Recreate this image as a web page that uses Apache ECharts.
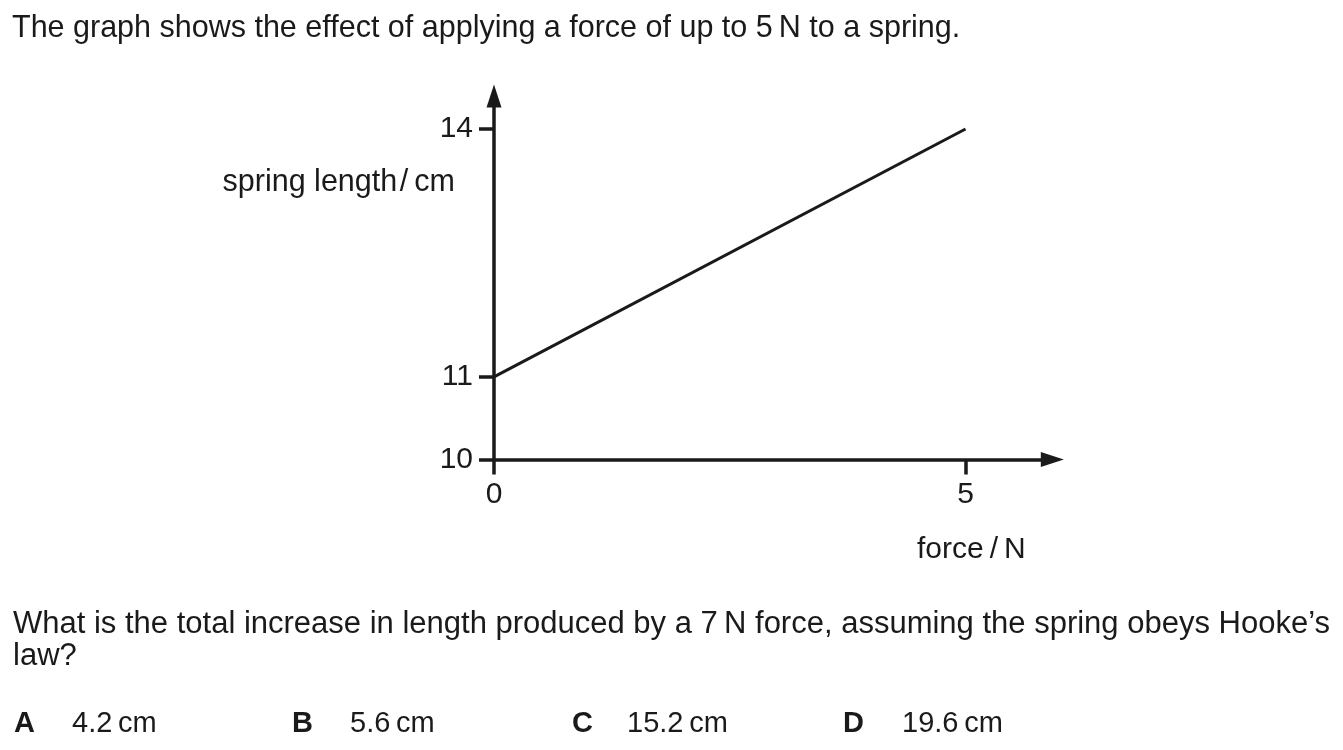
<!DOCTYPE html>
<html>
<head>
<meta charset="utf-8">
<script src="https://cdn.jsdelivr.net/npm/echarts/dist/echarts.min.js"></script>
<style>
html,body{margin:0;padding:0;background:#fff;}
#chart{width:1343px;height:750px;}
</style>
</head>
<body>
<div id="chart"></div>
<script>
// Data
var forceN = [0, 5];
var lengthCm = [11, 14];
var xTicks = [0, 5];
var yTicks = [10, 11, 14];
var xRange = [0, 5.92];
var yRange = [10, 14.4];

var titleText = 'The graph shows the effect of applying a force of up to 5\u2009N to a spring.';
var yName = 'spring length\u200a/\u2009cm';
var xName = 'force\u2009/\u2009N';
var question1 = 'What is the total increase in length produced by a 7\u2009N force, assuming the spring obeys Hooke\u2019s';
var question2 = 'law?';
var optionLetters = ['A', 'B', 'C', 'D'];
var optionValues = ['4.2\u2009cm', '5.6\u2009cm', '15.2\u2009cm', '19.6\u2009cm'];

var INK = '#1a1a1a';
var FONT = '"Liberation Sans", Arial, Helvetica, sans-serif';

var pts = forceN.map(function (f, i) { return [f, lengthCm[i]]; });

var optLetterX = [14, 292, 572, 843];
var optValueX = [72, 350, 627, 902];

var graphics = [
  {type: 'text', x: 12, y: 29, style: {text: titleText, font: '30.5px ' + FONT, fill: INK, verticalAlign: 'middle'}},
  {type: 'text', x: 455, y: 183, style: {text: yName, font: '30.5px ' + FONT, fill: INK, align: 'right', verticalAlign: 'middle'}},
  {type: 'text', x: 917, y: 550, style: {text: xName, font: '30px ' + FONT, fill: INK, verticalAlign: 'middle'}},
  {type: 'text', x: 13, y: 624, style: {text: question1, font: '31px ' + FONT, fill: INK, verticalAlign: 'middle'}},
  {type: 'text', x: 13, y: 656, style: {text: question2, font: '31px ' + FONT, fill: INK, verticalAlign: 'middle'}}
];
optionLetters.forEach(function (l, i) {
  graphics.push({type: 'text', x: optLetterX[i], y: 723.5, style: {text: l, font: 'bold 29px ' + FONT, fill: INK, verticalAlign: 'middle'}});
  graphics.push({type: 'text', x: optValueX[i], y: 723.5, style: {text: optionValues[i], font: '29px ' + FONT, fill: INK, verticalAlign: 'middle'}});
});

var chart = echarts.init(document.getElementById('chart'), null, {renderer: 'canvas'});
chart.setOption({
  animation: false,
  backgroundColor: '#ffffff',
  grid: {left: 494, width: 558.3, top: 96, height: 363.5, containLabel: false},
  xAxis: {
    type: 'value', min: xRange[0], max: xRange[1],
    splitLine: {show: false},
    axisLine: {onZero: false, lineStyle: {color: INK, width: 3.5}, symbol: ['none', 'triangle'], symbolSize: [15, 23]},
    axisTick: {show: true, length: 15, inside: false, lineStyle: {color: INK, width: 3.5}, customValues: xTicks},
    axisLabel: {margin: 20, color: INK, fontSize: 30, fontFamily: FONT, customValues: xTicks}
  },
  yAxis: {
    type: 'value', min: yRange[0], max: yRange[1],
    splitLine: {show: false},
    axisLine: {show: true, onZero: false, lineStyle: {color: INK, width: 3.5}, symbol: ['none', 'triangle'], symbolSize: [15, 23]},
    axisTick: {show: true, length: 15, inside: false, lineStyle: {color: INK, width: 3.5}, customValues: yTicks},
    axisLabel: {margin: 21, padding: [4, 0, 0, 0], color: INK, fontSize: 30, fontFamily: FONT, customValues: yTicks}
  },
  series: [{
    type: 'line', data: pts, symbol: 'none', clip: false,
    lineStyle: {color: INK, width: 3}
  }],
  graphic: graphics
});
</script>
</body>
</html>
